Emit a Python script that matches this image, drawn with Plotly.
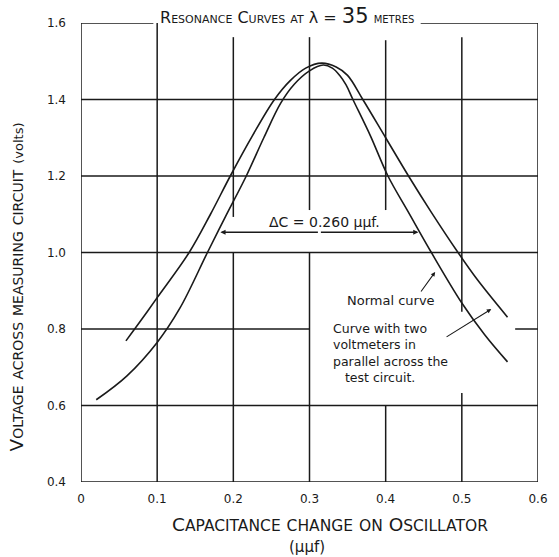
import plotly.graph_objects as go

# ---- data ----
normal_x = [0.02, 0.06, 0.10, 0.13, 0.166, 0.19, 0.217, 0.24, 0.262, 0.28, 0.30, 0.318,
            0.33, 0.34, 0.348, 0.357, 0.38, 0.403, 0.43, 0.46, 0.50, 0.53, 0.56]
normal_y = [0.615, 0.677, 0.765, 0.855, 1.0, 1.095, 1.2, 1.30, 1.39, 1.44, 1.475, 1.49,
            1.482, 1.462, 1.438, 1.40, 1.305, 1.2, 1.105, 1.0, 0.868, 0.785, 0.714]

two_vm_x = [0.059, 0.08, 0.10, 0.142, 0.17, 0.196, 0.225, 0.254, 0.275, 0.295, 0.316,
            0.335, 0.35, 0.37, 0.40, 0.43, 0.46, 0.495, 0.52, 0.56]
two_vm_y = [0.769, 0.826, 0.882, 1.0, 1.1, 1.2, 1.305, 1.40, 1.45, 1.482, 1.495,
            1.485, 1.463, 1.40, 1.30, 1.2, 1.105, 1.0, 0.93, 0.831]

x_ticks = [0, 0.1, 0.2, 0.3, 0.4, 0.5, 0.6]
x_tick_labels = ["0", "0.1", "0.2", "0.3", "0.4", "0.5", "0.6"]
y_ticks = [0.4, 0.6, 0.8, 1.0, 1.2, 1.4, 1.6]
y_tick_labels = ["0.4", "0.6", "0.8", "1.0", "1.2", "1.4", "1.6"]

delta_c_level = 1.053
delta_c_left = 0.183
delta_c_right = 0.443

# grid segments (hand-drawn sheet has gaps around the lettering)
grid_v = {
    0.0: [(0.4, 1.6)],
    0.1: [(0.4, 1.6)],
    0.2: [(0.4, 1.0), (1.093, 1.563)],
    0.3: [(0.4, 1.0), (1.111, 1.563)],
    0.4: [(0.4, 0.6), (1.111, 1.555)],
    0.5: [(0.4, 0.633), (0.845, 1.563)],
    0.6: [(0.4, 1.6)],
}
grid_h = {
    1.6: [(0.0, 0.095), (0.446, 0.6)],
    1.4: [(0.0, 0.6)],
    1.2: [(0.0, 0.6)],
    1.0: [(0.0, 0.6)],
    0.8: [(0.0, 0.3), (0.57, 0.6)],
    0.6: [(0.0, 0.6)],
    0.4: [(0.0, 0.6)],
}

FONT = "DejaVu Sans"
INK = "#1a1a1a"


def small_caps(text, small):
    """Lower-case letters become upper-case letters in a smaller size."""
    out, buf = [], ""
    for ch in text:
        if ch.isalpha() and ch.islower() and ch.isascii():
            buf += ch.upper()
        else:
            if buf:
                out.append(f"<span style='font-size:{small}px'>{buf}</span>")
                buf = ""
            out.append(ch)
    if buf:
        out.append(f"<span style='font-size:{small}px'>{buf}</span>")
    return "".join(out)


fig = go.Figure()
fig.add_trace(go.Scatter(x=normal_x, y=normal_y, mode="lines",
                         line=dict(color=INK, width=1.6, shape="spline", smoothing=1.0),
                         name="Normal curve", showlegend=False))
fig.add_trace(go.Scatter(x=two_vm_x, y=two_vm_y, mode="lines",
                         line=dict(color=INK, width=1.6, shape="spline", smoothing=1.0),
                         name="Curve with two voltmeters", showlegend=False))

shapes = []
for xv, segs in grid_v.items():
    for y0, y1 in segs:
        shapes.append(dict(type="line", xref="x", yref="y", x0=xv, x1=xv, y0=y0, y1=y1,
                           line=dict(color=INK, width=1.5), layer="below"))
for yv, segs in grid_h.items():
    for x0, x1 in segs:
        shapes.append(dict(type="line", xref="x", yref="y", x0=x0, x1=x1, y0=yv, y1=yv,
                           line=dict(color=INK, width=1.5), layer="below"))

ann = []
# title
title_txt = (small_caps("Resonance Curves at", 11) + " λ = <span style='font-size:21px'>35</span> "
             + small_caps("metres", 10))
ann.append(dict(xref="x", yref="paper", x=0.27, y=1.015, xanchor="center", yanchor="middle",
                showarrow=False, text=title_txt, font=dict(family=FONT, size=16, color=INK)))
# Delta C arrows
cx = (delta_c_left + delta_c_right) / 2
for end in (delta_c_left, delta_c_right):
    ann.append(dict(xref="x", yref="y", axref="x", ayref="y", x=end, y=delta_c_level,
                    ax=cx, ay=delta_c_level, showarrow=True, arrowhead=2, arrowsize=0.8,
                    arrowwidth=1.3, arrowcolor=INK, text=""))
ann.append(dict(xref="x", yref="y", x=0.32, y=1.08, showarrow=False,
                text="ΔC = 0.260 μμf.", font=dict(family=FONT, size=14, color=INK)))
# curve labels
ann.append(dict(xref="x", yref="y", x=0.465, y=0.949, axref="x", ayref="y", ax=0.445, ay=0.894,
                showarrow=True, arrowhead=2, arrowsize=0.8, arrowwidth=1.1, arrowcolor=INK, text=""))
ann.append(dict(xref="x", yref="y", x=0.5386, y=0.852, axref="x", ayref="y", ax=0.478, ay=0.777,
                showarrow=True, arrowhead=2, arrowsize=0.8, arrowwidth=1.1, arrowcolor=INK, text=""))
ann.append(dict(xref="x", yref="y", x=0.347, y=0.875, xanchor="left", yanchor="middle",
                showarrow=False, text="Normal curve",
                font=dict(family=FONT, size=13, color=INK)))
ann.append(dict(xref="x", yref="y", x=0.328, y=0.737, xanchor="left", yanchor="middle",
                align="left", showarrow=False,
                text="Curve with two<br>voltmeters in<br>parallel across the<br>&nbsp;&nbsp;&nbsp;test circuit.",
                font=dict(family=FONT, size=12.5, color=INK)))
# axis titles
ytitle = small_caps("Voltage across measuring circuit", 14) + " <span style='font-size:13px'>(volts)</span>"
ann.append(dict(xref="paper", yref="paper", x=-0.141, y=0.425, xanchor="center", yanchor="middle",
                textangle=-90, showarrow=False,
                text=ytitle, font=dict(family=FONT, size=18.5, color=INK)))
ann.append(dict(xref="paper", yref="paper", x=0.545, y=-0.092, xanchor="center", yanchor="middle",
                showarrow=False, text=small_caps("Capacitance change on Oscillator", 15.5),
                font=dict(family=FONT, size=18.5, color=INK)))
ann.append(dict(xref="paper", yref="paper", x=0.495, y=-0.1416, xanchor="center", yanchor="middle",
                showarrow=False, text="(μμf)", font=dict(family=FONT, size=15, color=INK)))

fig.update_layout(
    width=559, height=557,
    margin=dict(l=81, r=11, t=23, b=75),
    paper_bgcolor="white", plot_bgcolor="white",
    shapes=shapes, annotations=ann, showlegend=False,
    xaxis=dict(range=[0, 0.6], tickvals=x_ticks, ticktext=x_tick_labels, showgrid=False,
               zeroline=False, showline=False, ticks="", ticklabelstandoff=8,
               tickfont=dict(family=FONT, size=12, color=INK)),
    yaxis=dict(range=[0.4, 1.6], tickvals=y_ticks, ticktext=y_tick_labels, showgrid=False,
               zeroline=False, showline=False, ticks="", ticklabelstandoff=14,
               tickfont=dict(family=FONT, size=12, color=INK)),
)

fig.write_html("out.html")
